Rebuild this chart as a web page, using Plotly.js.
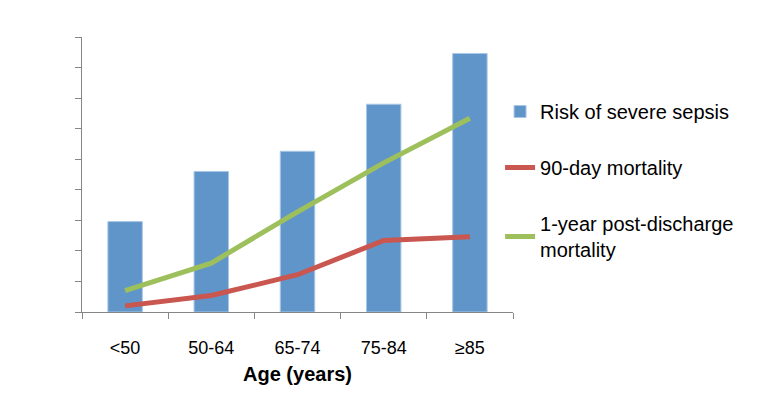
<!DOCTYPE html>
<html>
<head>
<meta charset="utf-8">
<script src="https://cdn.plot.ly/plotly-3.0.1.min.js"></script>
<style>html,body{margin:0;padding:0;background:#fff;}#chart{width:765px;height:407px;}</style>
</head>
<body>
<div id="chart"></div>
<script>
const categories = ["<50", "50-64", "65-74", "75-84", "≥85"];
const severeSepsisRisk = [14.8, 23.0, 26.3, 34.0, 42.3];
const mortality90Day = [1.0, 2.7, 6.1, 11.7, 12.3];
const mortality1Year = [3.5, 8.0, 16.4, 24.4, 31.7];
const seriesNames = ["Risk of severe sepsis", "90-day mortality", "1-year post-discharge<br>mortality"];
const yTicks = [0, 5, 10, 15, 20, 25, 30, 35, 40, 45];
const yRange = [0, 45];

const FONT = "Arial, 'Liberation Sans', sans-serif";

const traces = [
  {
    type: "bar", x: categories, y: severeSepsisRisk, name: seriesNames[0],
    marker: {color: "#6095c9", line: {color: "#a9c8e6", width: 1}},
    legendgroup: "a", hoverinfo: "y"
  },
  {
    type: "scatter", mode: "lines", x: categories, y: mortality90Day, name: seriesNames[1],
    line: {color: "#c9564f", width: 5},
    legendgroup: "b", hoverinfo: "y"
  },
  {
    type: "scatter", mode: "lines", x: categories, y: mortality1Year, name: seriesNames[2],
    line: {color: "#9dc05c", width: 5},
    legendgroup: "c", hoverinfo: "y"
  }
];

const layout = {
  width: 765, height: 407,
  margin: {l: 82, r: 252, t: 37, b: 95},
  paper_bgcolor: "#fff", plot_bgcolor: "#fff",
  font: {family: FONT, color: "#000", size: 18},
  bargap: 0.6,
  showlegend: true,
  legend: {
    x: 0.97, xanchor: "left", y: 0.80, yanchor: "top",
    font: {family: FONT, size: 20, color: "#000"},
    tracegroupgap: 27, traceorder: "grouped",
    bgcolor: "rgba(0,0,0,0)"
  },
  xaxis: {
    type: "category",
    showline: true, linecolor: "#868686", linewidth: 1,
    ticks: "outside", tickson: "boundaries", ticklen: 6, tickcolor: "#868686",
    ticklabelstandoff: 19,
    showgrid: false, zeroline: false,
    tickfont: {family: FONT, size: 18, color: "#000"},
    title: {text: "<b>Age (years)</b>", font: {family: FONT, size: 20, color: "#000"}, standoff: 10}
  },
  yaxis: {
    range: yRange, tickvals: yTicks,
    showline: true, linecolor: "#868686", linewidth: 1,
    ticks: "outside", ticklen: 6, tickcolor: "#868686",
    showticklabels: false,
    showgrid: false, zeroline: false
  },
  yaxis2: {
    overlaying: "y", side: "left", anchor: "x",
    range: yRange, tickvals: yTicks,
    showline: false,
    ticks: "outside", ticklen: 14, tickcolor: "rgba(0,0,0,0)",
    showgrid: false, zeroline: false,
    tickfont: {family: FONT, size: 18, color: "#000"},
    title: {text: "<b>%</b>", font: {family: FONT, size: 20, color: "#000"}, standoff: 14}
  }
};

Plotly.newPlot("chart", traces, layout, {displayModeBar: false, staticPlot: true});
</script>
</body>
</html>
